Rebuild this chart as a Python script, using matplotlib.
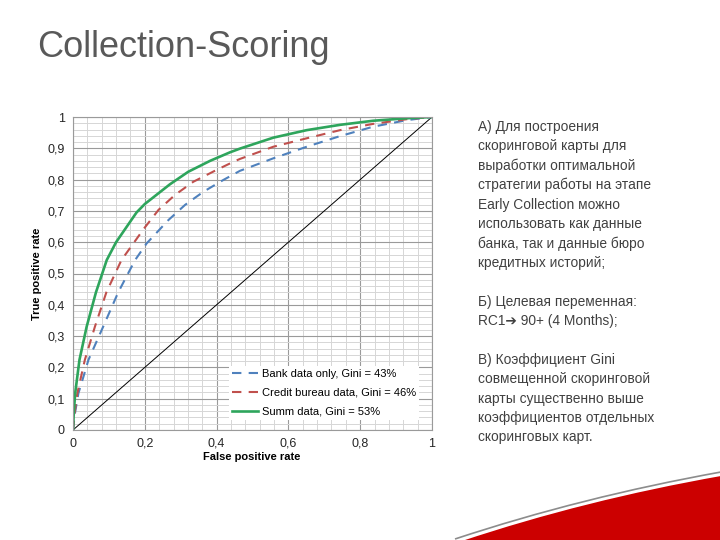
import matplotlib
matplotlib.use("Agg")
import matplotlib.pyplot as plt
from matplotlib.path import Path
from matplotlib.patches import PathPatch
from matplotlib.ticker import MultipleLocator, FuncFormatter

plt.rcParams['font.family'] = ['Liberation Sans', 'DejaVu Sans']

# ---- data ----
summ_fpr = [0, 0.002, 0.006, 0.018, 0.038, 0.064, 0.094, 0.120, 0.177, 0.200, 0.270, 0.321,
            0.382, 0.437, 0.465, 0.558, 0.651, 0.744, 0.836, 0.930, 1.0]
summ_tpr = [0, 0.050, 0.117, 0.224, 0.330, 0.440, 0.543, 0.600, 0.695, 0.722, 0.785, 0.825,
            0.860, 0.887, 0.899, 0.934, 0.958, 0.975, 0.988, 0.996, 1.0]

cb_fpr = [0, 0.004, 0.012, 0.033, 0.061, 0.093, 0.135, 0.198, 0.238, 0.284, 0.335, 0.400,
          0.447, 0.465, 0.558, 0.651, 0.744, 0.836, 0.930, 1.0]
cb_tpr = [0, 0.050, 0.117, 0.224, 0.330, 0.440, 0.543, 0.644, 0.703, 0.751, 0.793, 0.831,
          0.857, 0.866, 0.905, 0.932, 0.958, 0.978, 0.993, 1.0]

bank_fpr = [0, 0.005, 0.015, 0.029, 0.043, 0.084, 0.126, 0.173, 0.205, 0.266, 0.312, 0.363,
            0.419, 0.465, 0.558, 0.651, 0.744, 0.836, 0.930, 1.0]
bank_tpr = [0, 0.050, 0.117, 0.170, 0.224, 0.330, 0.440, 0.543, 0.596, 0.671, 0.719, 0.761,
            0.799, 0.828, 0.868, 0.905, 0.939, 0.969, 0.990, 1.0]

diag = [0, 1]

labels = ["Bank data only, Gini = 43%", "Credit bureau data, Gini = 46%", "Summ data, Gini = 53%"]

title = "Collection-Scoring"
side_lines = [
    "А) Для построения",
    "скоринговой карты для",
    "выработки оптимальной",
    "стратегии работы на этапе",
    "Early Collection можно",
    "использовать как данные",
    "банка, так и данные бюро",
    "кредитных историй;",
    "",
    "Б) Целевая переменная:",
    "RC1➔ 90+ (4 Months);",
    "",
    "В) Коэффициент Gini",
    "совмещенной скоринговой",
    "карты существенно выше",
    "коэффициентов отдельных",
    "скоринговых карт.",
]

W, H = 720, 540
fig = plt.figure(figsize=(7.2, 5.4), dpi=100)
fig.patch.set_facecolor('white')

def fx(px):
    return px / W

def fy(py):
    return 1 - py / H

# decorative red swoosh bottom-right
verts = [(fx(462), fy(541)), (fx(585), fy(500)), (fx(721), fy(476)),
         (fx(721), fy(541)), (fx(462), fy(541))]
codes = [Path.MOVETO, Path.CURVE3, Path.CURVE3, Path.LINETO, Path.CLOSEPOLY]
fig.patches.append(PathPatch(Path(verts, codes), transform=fig.transFigure,
                             facecolor='#cc0000', edgecolor='none', zorder=0))
gverts = [(fx(455), fy(539)), (fx(582), fy(497)), (fx(721), fy(472))]
fig.patches.append(PathPatch(Path(gverts, [Path.MOVETO, Path.CURVE3, Path.CURVE3]),
                             transform=fig.transFigure, facecolor='none',
                             edgecolor='#8c8c8c', lw=1.2, zorder=0))

# title
fig.text(fx(37), fy(57), title, fontsize=26, color='#595959', ha='left', va='baseline')

# side text
for i, line in enumerate(side_lines):
    fig.text(fx(478), fy(127 + i * 19.4), line, fontsize=9.9, color='#404040',
             ha='left', va='center', family=['Liberation Sans', 'DejaVu Sans'])

# axes
ax = fig.add_axes([fx(73), fy(430), (432 - 73) / W, (430 - 117) / H])
ax.set_xlim(0, 1)
ax.set_ylim(0, 1)
ax.xaxis.set_major_locator(MultipleLocator(0.2))
ax.xaxis.set_minor_locator(MultipleLocator(0.04))
ax.yaxis.set_major_locator(MultipleLocator(0.1))
ax.yaxis.set_minor_locator(MultipleLocator(0.02))
ax.grid(which='major', color='#9a9a9a', lw=0.8)
ax.grid(which='minor', color='#d6d6d6', lw=0.7)
ax.set_axisbelow(True)
for s in ax.spines.values():
    s.set_color('#9a9a9a')
    s.set_linewidth(0.8)
ax.tick_params(which='both', length=0)
ax.tick_params(axis='y', labelsize=9, colors='#262626', pad=6)
ax.tick_params(axis='x', labelsize=9, colors='#262626', pad=12.2)
fmt = FuncFormatter(lambda v, p: ('%g' % round(v, 2)).replace('.', ','))
ax.xaxis.set_major_formatter(fmt)
ax.yaxis.set_major_formatter(fmt)
for lbl in ax.get_xticklabels():
    lbl.set_verticalalignment('baseline')

ax.plot(diag, diag, color='black', lw=0.7)
ax.plot(bank_fpr, bank_tpr, color='#4f81bd', lw=1.5, ls=(0, (4.5, 3.5)), label=labels[0])
ax.plot(cb_fpr, cb_tpr, color='#c0504d', lw=1.5, ls=(0, (4.5, 3.5)), label=labels[1])
ax.plot(summ_fpr, summ_tpr, color='#2ea55c', lw=1.9, solid_joinstyle='round', label=labels[2])

ax.set_xlabel("False positive rate", fontsize=8, fontweight='bold')
ax.set_ylabel("True positive rate", fontsize=8, fontweight='bold')
ax.xaxis.set_label_coords((252 - 73) / 359, (430 - 457) / 313)
ax.xaxis.label.set_verticalalignment('center')
ax.yaxis.set_label_coords((37 - 73) / 359, 0.5)
ax.yaxis.label.set_verticalalignment('center')

leg = ax.legend(loc='lower left', bbox_to_anchor=((229 - 73) / 359, (430 - 420) / 313),
                borderaxespad=0, fontsize=8, frameon=True, facecolor='white',
                edgecolor='none', framealpha=1, handlelength=2.3, handletextpad=0.35,
                borderpad=0.3, labelspacing=0.8, fancybox=False)

fig.savefig("out.png", dpi=100)
